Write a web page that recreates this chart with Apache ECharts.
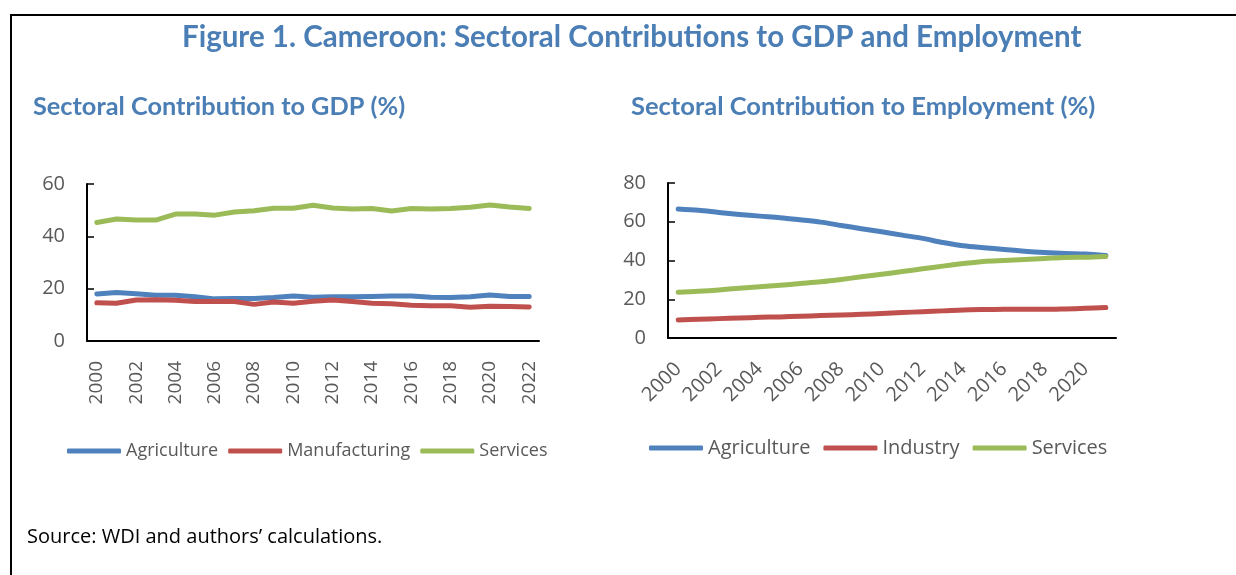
<!DOCTYPE html>
<html>
<head>
<meta charset="utf-8">
<script src="https://cdn.jsdelivr.net/npm/echarts@6/dist/echarts.min.js"></script>
<style>
  html, body { margin: 0; padding: 0; background: #fff; }
  #chart { width: 1236px; height: 575px; }
</style>
</head>
<body>
<div id="chart"></div>
<script>
// Sector shares of GDP, 2000-2022 (%)
const gdpYears = ['2000','2001','2002','2003','2004','2005','2006','2007','2008','2009','2010','2011',
                  '2012','2013','2014','2015','2016','2017','2018','2019','2020','2021','2022'];
const gdpAgriculture = [18.0,18.5,18.1,17.5,17.5,16.9,16.1,16.2,16.2,16.6,17.2,16.7,
                        16.9,16.9,17.0,17.2,17.2,16.7,16.6,16.9,17.6,17.0,17.0];
const gdpManufacturing = [14.6,14.4,15.7,15.8,15.6,15.1,15.1,15.1,14.0,14.9,14.4,15.2,
                          15.7,15.1,14.4,14.2,13.7,13.5,13.5,12.9,13.3,13.2,13.0];
const gdpServices = [45.3,46.6,46.2,46.2,48.5,48.5,48.1,49.3,49.8,50.7,50.7,51.9,
                     50.8,50.4,50.6,49.7,50.6,50.4,50.6,51.1,52.0,51.2,50.6];

// Sector shares of employment, 2000-2021 (%)
const empYears = ['2000','2001','2002','2003','2004','2005','2006','2007','2008','2009','2010',
                  '2011','2012','2013','2014','2015','2016','2017','2018','2019','2020','2021'];
const empAgriculture = [66.6,65.9,64.8,63.8,62.9,62.1,61.0,59.8,58.1,56.4,54.8,
                        53.1,51.4,49.3,47.6,46.6,45.7,44.8,44.1,43.6,43.3,42.6];
const empIndustry = [9.3,9.7,10.0,10.3,10.7,10.9,11.2,11.6,11.9,12.2,12.6,
                     13.1,13.6,14.0,14.5,14.7,14.8,14.8,14.8,15.0,15.3,15.7];
const empServices = [23.6,24.1,24.8,25.7,26.4,27.2,28.1,29.0,30.2,31.6,32.9,
                     34.3,35.7,37.1,38.4,39.5,40.0,40.5,41.0,41.6,41.7,42.1];

const BLUE = '#4f81bd', RED = '#c0504d', GREEN = '#9bbb59';
const HEAD = '#4a7eb5', GREY = '#595959';
const LABEL_FONT = '"Open Sans", "Noto Sans", sans-serif';
const HEAD_FONT = 'Lato, "Open Sans", sans-serif';

const chart = echarts.init(document.getElementById('chart'), null, { renderer: 'canvas' });

function lineSeries(name, data, color, xi, smooth) {
  return {
    name, type: 'line', data, xAxisIndex: xi, yAxisIndex: xi,
    symbol: 'none', smooth: smooth ? 0.3 : false,
    lineStyle: { color, width: 5, cap: 'round', join: 'round' },
    itemStyle: { color },
    emphasis: { disabled: true }
  };
}

function catAxis(gi, data, rotate, margin, size) {
  return {
    type: 'category', gridIndex: gi, data, boundaryGap: true,
    axisLine: { lineStyle: { color: '#000', width: 2 } },
    axisTick: { inside: true, length: 7, interval: 0, lineStyle: { color: '#000', width: 1.5 } },
    axisLabel: { interval: 1, rotate, margin, color: GREY, fontSize: size, fontFamily: LABEL_FONT },
    splitLine: { show: false }
  };
}

function valAxis(gi, max) {
  return {
    type: 'value', gridIndex: gi, min: 0, max, interval: 20,
    axisLine: { show: true, lineStyle: { color: '#000', width: 2 } },
    axisTick: { show: true, inside: true, length: 7, lineStyle: { color: '#000', width: 1.5 } },
    axisLabel: { margin: 22, color: GREY, fontSize: 20, fontFamily: LABEL_FONT },
    splitLine: { show: false }
  };
}

chart.setOption({
  animation: false,
  backgroundColor: '#fff',
  title: [
    { text: 'Figure 1. Cameroon: Sectoral Contributions to GDP and Employment',
      left: 182, top: 22, padding: 0,
      textStyle: { color: HEAD, fontSize: 29.5, fontWeight: 'bold', fontFamily: HEAD_FONT } },
    { text: 'Sectoral Contribution to GDP (%)', left: 33, top: 94, padding: 0,
      textStyle: { color: HEAD, fontSize: 25.3, fontWeight: 'bold', fontFamily: HEAD_FONT } },
    { text: 'Sectoral Contribution to Employment (%)', left: 631, top: 94, padding: 0,
      textStyle: { color: HEAD, fontSize: 25.5, fontWeight: 'bold', fontFamily: HEAD_FONT } },
    { text: 'Source: WDI and authors’ calculations.', left: 27, top: 527, padding: 0,
      textStyle: { color: '#000', fontSize: 20, fontWeight: 'normal', fontFamily: LABEL_FONT } }
  ],
  legend: [
    { data: ['Agriculture', 'Manufacturing', 'Services'], left: 67, top: 442, padding: 0,
      icon: 'roundRect', itemWidth: 54, itemHeight: 5, itemGap: 10,
      textStyle: { color: GREY, fontSize: 18, fontFamily: LABEL_FONT }, selectedMode: false },
    { data: ['Agriculture ', 'Industry', 'Services '], left: 649, top: 438, padding: 0,
      icon: 'roundRect', itemWidth: 54, itemHeight: 5, itemGap: 13,
      textStyle: { color: GREY, fontSize: 20, fontFamily: LABEL_FONT }, selectedMode: false,
      formatter: n => n.trim() }
  ],
  grid: [
    { left: 87, top: 184, width: 452, height: 157 },
    { left: 668, top: 183, width: 448, height: 155 }
  ],
  xAxis: [catAxis(0, gdpYears, 90, 20, 19), catAxis(1, empYears, 45, 28, 20)],
  yAxis: [valAxis(0, 60), valAxis(1, 80)],
  series: [
    lineSeries('Agriculture', gdpAgriculture, BLUE, 0, false),
    lineSeries('Manufacturing', gdpManufacturing, RED, 0, false),
    lineSeries('Services', gdpServices, GREEN, 0, false),
    lineSeries('Agriculture ', empAgriculture, BLUE, 1, true),
    lineSeries('Industry', empIndustry, RED, 1, true),
    lineSeries('Services ', empServices, GREEN, 1, true)
  ],
  graphic: [
    { type: 'polyline', silent: true,
      shape: { points: [[11, 575], [11, 15], [1236, 15]] },
      style: { stroke: '#000', lineWidth: 2, fill: null } }
  ]
});
</script>
</body>
</html>
